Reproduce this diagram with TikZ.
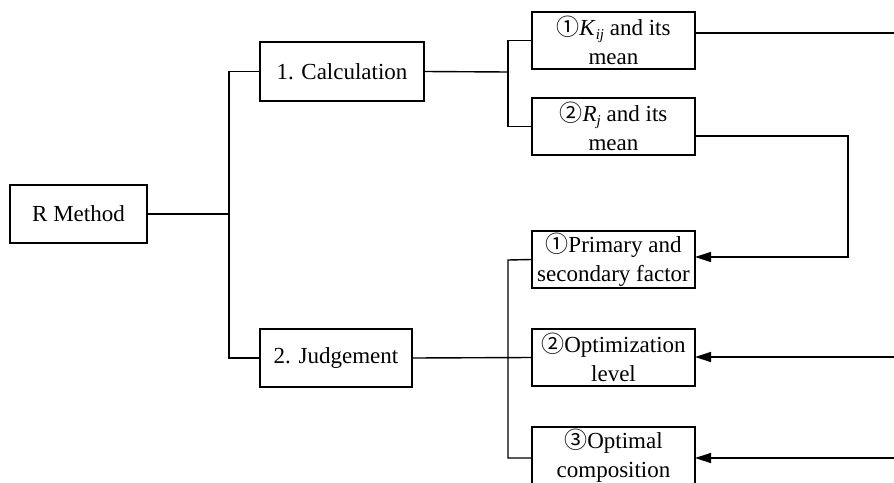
\documentclass[tikz,border=0pt]{standalone}
\usepackage{fontspec}
\setmainfont{Liberation Serif}
\newfontfamily\circfont{Noto Sans CJK SC}
\usetikzlibrary{arrows.meta}
\newcommand{\cnum}[1]{{\circfont\fontsize{23}{29}\selectfont #1}}
\newcommand{\subit}[1]{\raisebox{-0.4ex}{\fontsize{15}{15}\selectfont\itshape #1}}
\begin{document}
\begin{tikzpicture}[x=1pt,y=-1pt,
  line width=1.4pt,
  box/.style={draw, line width=1.4pt, align=center, inner sep=0pt,
    font=\fontsize{23}{29}\selectfont},
  conn/.style={draw, line width=1.4pt},
  arr/.style={conn, -{Triangle[length=16pt,width=10pt]}}]
\useasboundingbox (0,0) rectangle (894,482);

\node[box, minimum width=137pt, minimum height=58pt] (R) at (78.5,214) {R Method};
\node[box, minimum width=164pt, minimum height=59pt] (calc) at (342,71.5) {1. Calculation};
\node[box, minimum width=152pt, minimum height=58pt] (judge) at (336,358) {2. Judgement};

\node[box, minimum width=163pt, minimum height=57pt] (K) at (613.5,40.5) {\cnum{①}\textit{K}\subit{ij} and its\\mean};
\node[box, minimum width=163pt, minimum height=57pt] (Rj) at (613.5,126.5) {\cnum{②}\textit{R}\subit{j} and its\\mean};
\node[box, minimum width=163pt, minimum height=57pt] (prim) at (613.5,259.5) {\cnum{①}Primary and\\secondary factor};
\node[box, minimum width=163pt, minimum height=57pt] (optl) at (613.5,357.5) {\cnum{②}Optimization\\level};
\node[box, minimum width=163pt, minimum height=57pt] (optc) at (613.5,455.5) {\cnum{③}Optimal\\composition};

% coordinates
\coordinate (j1) at (229,214);
\coordinate (j2) at (508,72);
\coordinate (Kout) at (695,33);
\coordinate (Kend) at (894,33);
\coordinate (Rout) at (695,136);
\coordinate (Rturn) at (848,136);
\coordinate (Pin) at (695,257);
\coordinate (Oin) at (695,357);
\coordinate (Oend) at (894,357);
\coordinate (Cin) at (695,458);
\coordinate (Cend) at (894,458);
\coordinate (j3top) at (508,260);
\coordinate (j3bot) at (508,458);

% left tree
\draw[conn] (R.east) -- (j1);
\draw[conn] (calc.west) -| (j1) |- (judge.west);

% calculation branch
\draw[conn] (calc.east) -- (j2);
\draw[conn] (K.west) -| (j2) |- (Rj.west);

% judgement branch
\draw[conn] (judge.east) -- (optl.west);
\draw[conn] (prim.west) -- (j3top) -- (j3bot) -- (optc.west |- j3bot);

% feedback lines
\draw[conn] (Kout) -- (Kend);
\draw[arr] (Rout) -- (Rturn) |- (Pin);
\draw[arr] (Oend) -- (Oin);
\draw[arr] (Cend) -- (Cin);
\end{tikzpicture}
\end{document}
